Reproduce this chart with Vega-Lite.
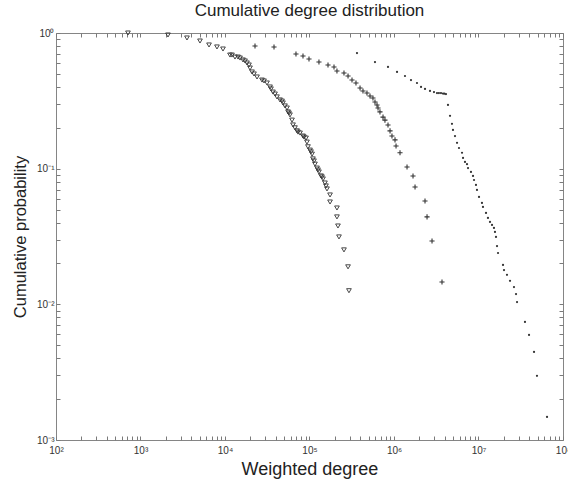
{
  "$schema": "https://vega.github.io/schema/vega-lite/v6.json",
  "width": 507,
  "height": 407,
  "autosize": "none",
  "padding": {"left": 56, "top": 33, "right": 5, "bottom": 41},
  "background": "white",
  "title": {
    "text": "Cumulative degree distribution",
    "font": "Liberation Sans",
    "fontSize": 17,
    "fontWeight": "normal",
    "color": "#222222",
    "anchor": "middle",
    "offset": 8
  },
  "config": {
    "view": {"stroke": "#858585", "strokeWidth": 1},
    "axis": {
      "domain": false,
      "grid": false,
      "ticks": true,
      "tickSize": -4,
      "tickColor": "#7a7a7a",
      "tickWidth": 1,
      "labelFont": "Liberation Sans",
      "labelFontSize": 10,
      "labelColor": "#333333",
      "titleFont": "Liberation Sans",
      "titleFontWeight": "normal",
      "titleColor": "#222222"
    }
  },
  "datasets": {
    "triangles": [
      {"degree": 711, "prob": 1.0},
      {"degree": 2115, "prob": 0.967},
      {"degree": 3548, "prob": 0.919},
      {"degree": 5058, "prob": 0.873},
      {"degree": 6471, "prob": 0.816},
      {"degree": 8035, "prob": 0.789},
      {"degree": 9466, "prob": 0.762},
      {"degree": 11460, "prob": 0.688},
      {"degree": 12100, "prob": 0.688},
      {"degree": 13130, "prob": 0.665},
      {"degree": 14260, "prob": 0.665},
      {"degree": 15060, "prob": 0.654},
      {"degree": 16330, "prob": 0.633},
      {"degree": 17260, "prob": 0.622},
      {"degree": 18200, "prob": 0.601},
      {"degree": 19230, "prob": 0.581},
      {"degree": 19770, "prob": 0.552},
      {"degree": 20890, "prob": 0.516},
      {"degree": 22030, "prob": 0.499},
      {"degree": 23930, "prob": 0.474},
      {"degree": 27420, "prob": 0.45},
      {"degree": 28970, "prob": 0.443},
      {"degree": 31410, "prob": 0.428},
      {"degree": 34120, "prob": 0.4},
      {"degree": 35000, "prob": 0.387},
      {"degree": 36980, "prob": 0.367},
      {"degree": 39080, "prob": 0.355},
      {"degree": 41210, "prob": 0.338},
      {"degree": 44770, "prob": 0.321},
      {"degree": 47300, "prob": 0.315},
      {"degree": 48530, "prob": 0.305},
      {"degree": 51290, "prob": 0.29},
      {"degree": 54200, "prob": 0.28},
      {"degree": 55720, "prob": 0.262},
      {"degree": 57150, "prob": 0.257},
      {"degree": 58750, "prob": 0.249},
      {"degree": 62090, "prob": 0.228},
      {"degree": 63830, "prob": 0.21},
      {"degree": 67300, "prob": 0.2},
      {"degree": 71120, "prob": 0.19},
      {"degree": 73110, "prob": 0.186},
      {"degree": 77270, "prob": 0.183},
      {"degree": 83750, "prob": 0.174},
      {"degree": 86100, "prob": 0.171},
      {"degree": 90990, "prob": 0.168},
      {"degree": 93330, "prob": 0.157},
      {"degree": 95940, "prob": 0.145},
      {"degree": 101400, "prob": 0.137},
      {"degree": 104200, "prob": 0.133},
      {"degree": 107200, "prob": 0.128},
      {"degree": 109900, "prob": 0.118},
      {"degree": 113000, "prob": 0.114},
      {"degree": 116100, "prob": 0.108},
      {"degree": 122700, "prob": 0.101},
      {"degree": 126100, "prob": 0.0978},
      {"degree": 129400, "prob": 0.0946},
      {"degree": 136800, "prob": 0.0884},
      {"degree": 140600, "prob": 0.0869},
      {"degree": 144500, "prob": 0.084},
      {"degree": 152400, "prob": 0.0784},
      {"degree": 156700, "prob": 0.0746},
      {"degree": 161100, "prob": 0.0709},
      {"degree": 175000, "prob": 0.064},
      {"degree": 175000, "prob": 0.0568},
      {"degree": 211300, "prob": 0.0513},
      {"degree": 211300, "prob": 0.0441},
      {"degree": 217300, "prob": 0.0378},
      {"degree": 223400, "prob": 0.0314},
      {"degree": 255900, "prob": 0.0252},
      {"degree": 285800, "prob": 0.0189},
      {"degree": 293100, "prob": 0.0126}
    ],
    "pluses": [
      {"degree": 22650, "prob": 0.802},
      {"degree": 38020, "prob": 0.789},
      {"degree": 69180, "prob": 0.7},
      {"degree": 83750, "prob": 0.677},
      {"degree": 98630, "prob": 0.643},
      {"degree": 129400, "prob": 0.611},
      {"degree": 165600, "prob": 0.581},
      {"degree": 195000, "prob": 0.562},
      {"degree": 211300, "prob": 0.525},
      {"degree": 255900, "prob": 0.507},
      {"degree": 285800, "prob": 0.482},
      {"degree": 318400, "prob": 0.45},
      {"degree": 354800, "prob": 0.428},
      {"degree": 396300, "prob": 0.393},
      {"degree": 429500, "prob": 0.374},
      {"degree": 478600, "prob": 0.361},
      {"degree": 520000, "prob": 0.343},
      {"degree": 563600, "prob": 0.332},
      {"degree": 595700, "prob": 0.31},
      {"degree": 629500, "prob": 0.295},
      {"degree": 647100, "prob": 0.28},
      {"degree": 682300, "prob": 0.262},
      {"degree": 741300, "prob": 0.24},
      {"degree": 781600, "prob": 0.228},
      {"degree": 849200, "prob": 0.21},
      {"degree": 897400, "prob": 0.19},
      {"degree": 946200, "prob": 0.174},
      {"degree": 1028000, "prob": 0.163},
      {"degree": 1057000, "prob": 0.147},
      {"degree": 1178000, "prob": 0.131},
      {"degree": 1426000, "prob": 0.103},
      {"degree": 1679000, "prob": 0.0884},
      {"degree": 1774000, "prob": 0.0733},
      {"degree": 2328000, "prob": 0.0578},
      {"degree": 2460000, "prob": 0.0441},
      {"degree": 2818000, "prob": 0.0293},
      {"degree": 3698000, "prob": 0.0146}
    ],
    "dots": [
      {"degree": 364800, "prob": 0.712},
      {"degree": 595700, "prob": 0.611},
      {"degree": 849200, "prob": 0.562},
      {"degree": 1086000, "prob": 0.516},
      {"degree": 1349000, "prob": 0.482},
      {"degree": 1589000, "prob": 0.45},
      {"degree": 1871000, "prob": 0.428},
      {"degree": 2089000, "prob": 0.4},
      {"degree": 2328000, "prob": 0.387},
      {"degree": 2667000, "prob": 0.374},
      {"degree": 2972000, "prob": 0.367},
      {"degree": 3228000, "prob": 0.361},
      {"degree": 3400000, "prob": 0.361},
      {"degree": 3597000, "prob": 0.361},
      {"degree": 3802000, "prob": 0.358},
      {"degree": 3950000, "prob": 0.357},
      {"degree": 4121000, "prob": 0.355},
      {"degree": 4355000, "prob": 0.295},
      {"degree": 4603000, "prob": 0.245},
      {"degree": 4853000, "prob": 0.214},
      {"degree": 4989000, "prob": 0.193},
      {"degree": 5272000, "prob": 0.174},
      {"degree": 5572000, "prob": 0.155},
      {"degree": 5875000, "prob": 0.142},
      {"degree": 6383000, "prob": 0.131},
      {"degree": 6561000, "prob": 0.12},
      {"degree": 6918000, "prob": 0.112},
      {"degree": 7311000, "prob": 0.108},
      {"degree": 7516000, "prob": 0.101},
      {"degree": 8147000, "prob": 0.0946},
      {"degree": 8610000, "prob": 0.0884},
      {"degree": 8851000, "prob": 0.0825},
      {"degree": 9333000, "prob": 0.0758},
      {"degree": 9594000, "prob": 0.0697},
      {"degree": 10140000, "prob": 0.0619},
      {"degree": 10990000, "prob": 0.0559},
      {"degree": 11300000, "prob": 0.0522},
      {"degree": 12270000, "prob": 0.0472},
      {"degree": 12940000, "prob": 0.0433},
      {"degree": 13680000, "prob": 0.0405},
      {"degree": 14450000, "prob": 0.0385},
      {"degree": 15240000, "prob": 0.0366},
      {"degree": 15670000, "prob": 0.0342},
      {"degree": 16110000, "prob": 0.0314},
      {"degree": 16560000, "prob": 0.0269},
      {"degree": 17020000, "prob": 0.0239},
      {"degree": 19500000, "prob": 0.0195},
      {"degree": 20040000, "prob": 0.0179},
      {"degree": 21730000, "prob": 0.0165},
      {"degree": 23600000, "prob": 0.0149},
      {"degree": 26300000, "prob": 0.0134},
      {"degree": 27800000, "prob": 0.0119},
      {"degree": 28580000, "prob": 0.0104},
      {"degree": 35480000, "prob": 0.00742},
      {"degree": 39630000, "prob": 0.00595},
      {"degree": 45390000, "prob": 0.00446},
      {"degree": 49200000, "prob": 0.00297},
      {"degree": 64710000, "prob": 0.00148}
    ]
  },
  "resolve": {"axis": {"x": "independent", "y": "independent"}},
  "layer": [
    {
      "data": {"name": "triangles"},
      "mark": {"type": "point", "shape": "triangle-down", "filled": false, "size": 22, "stroke": "#333333", "strokeWidth": 0.9, "opacity": 1},
      "encoding": {
        "x": {
          "field": "degree", "type": "quantitative",
          "scale": {"type": "log", "domain": [100, 100000000], "nice": false},
          "axis": {
            "orient": "bottom",
            "title": "Weighted degree",
            "titleFontSize": 18,
            "titlePadding": 5,
            "labelPadding": 9,
            "values": [100, 200, 300, 400, 500, 600, 700, 800, 900, 1000, 2000, 3000, 4000, 5000, 6000, 7000, 8000, 9000, 10000, 20000, 30000, 40000, 50000, 60000, 70000, 80000, 90000, 100000, 200000, 300000, 400000, 500000, 600000, 700000, 800000, 900000, 1000000, 2000000, 3000000, 4000000, 5000000, 6000000, 7000000, 8000000, 9000000, 10000000, 20000000, 30000000, 40000000, 50000000, 60000000, 70000000, 80000000, 90000000, 100000000],
            "labelExpr": "datum.value == 100 ? '10²' : datum.value == 1000 ? '10³' : datum.value == 10000 ? '10⁴' : datum.value == 100000 ? '10⁵' : datum.value == 1000000 ? '10⁶' : datum.value == 10000000 ? '10⁷' : datum.value == 100000000 ? '10⁸' : ''",
            "labelFlush": false,
            "labelOverlap": false
          }
        },
        "y": {
          "field": "prob", "type": "quantitative",
          "scale": {"type": "log", "domain": [0.001, 1], "nice": false},
          "axis": {
            "orient": "left",
            "title": "Cumulative probability",
            "titleFontSize": 16.5,
            "titlePadding": 8,
            "labelPadding": 6,
            "values": [0.001, 0.002, 0.003, 0.004, 0.005, 0.006, 0.007, 0.008, 0.009, 0.01, 0.02, 0.03, 0.04, 0.05, 0.06, 0.07, 0.08, 0.09, 0.1, 0.2, 0.3, 0.4, 0.5, 0.6, 0.7, 0.8, 0.9, 1],
            "labelExpr": "datum.value == 1 ? '10⁰' : datum.value == 0.1 ? '10⁻¹' : datum.value == 0.01 ? '10⁻²' : datum.value == 0.001 ? '10⁻³' : ''",
            "labelFlush": false,
            "labelOverlap": false
          }
        }
      }
    },
    {
      "data": {"name": "pluses"},
      "mark": {"type": "point", "shape": "M-1,0H1M0,-1V1", "filled": false, "size": 26, "stroke": "#333333", "strokeWidth": 1.1, "opacity": 1},
      "encoding": {
        "x": {"field": "degree", "type": "quantitative", "scale": {"type": "log", "domain": [100, 100000000], "nice": false}, "axis": null},
        "y": {"field": "prob", "type": "quantitative", "scale": {"type": "log", "domain": [0.001, 1], "nice": false}, "axis": null}
      }
    },
    {
      "data": {"name": "dots"},
      "mark": {"type": "point", "shape": "circle", "filled": true, "size": 5, "color": "#333333", "opacity": 1},
      "encoding": {
        "x": {"field": "degree", "type": "quantitative", "scale": {"type": "log", "domain": [100, 100000000], "nice": false}, "axis": null},
        "y": {"field": "prob", "type": "quantitative", "scale": {"type": "log", "domain": [0.001, 1], "nice": false}, "axis": null}
      }
    },
    {
      "data": {"name": "triangles"},
      "mark": {"type": "point", "opacity": 0},
      "encoding": {
        "x": {
          "field": "degree", "type": "quantitative",
          "scale": {"type": "log", "domain": [100, 100000000], "nice": false},
          "axis": {
            "orient": "top", "title": null, "labels": false,
            "values": [100, 200, 300, 400, 500, 600, 700, 800, 900, 1000, 2000, 3000, 4000, 5000, 6000, 7000, 8000, 9000, 10000, 20000, 30000, 40000, 50000, 60000, 70000, 80000, 90000, 100000, 200000, 300000, 400000, 500000, 600000, 700000, 800000, 900000, 1000000, 2000000, 3000000, 4000000, 5000000, 6000000, 7000000, 8000000, 9000000, 10000000, 20000000, 30000000, 40000000, 50000000, 60000000, 70000000, 80000000, 90000000, 100000000]
          }
        },
        "y": {
          "field": "prob", "type": "quantitative",
          "scale": {"type": "log", "domain": [0.001, 1], "nice": false},
          "axis": {
            "orient": "right", "title": null, "labels": false,
            "values": [0.001, 0.002, 0.003, 0.004, 0.005, 0.006, 0.007, 0.008, 0.009, 0.01, 0.02, 0.03, 0.04, 0.05, 0.06, 0.07, 0.08, 0.09, 0.1, 0.2, 0.3, 0.4, 0.5, 0.6, 0.7, 0.8, 0.9, 1]
          }
        }
      }
    }
  ]
}
